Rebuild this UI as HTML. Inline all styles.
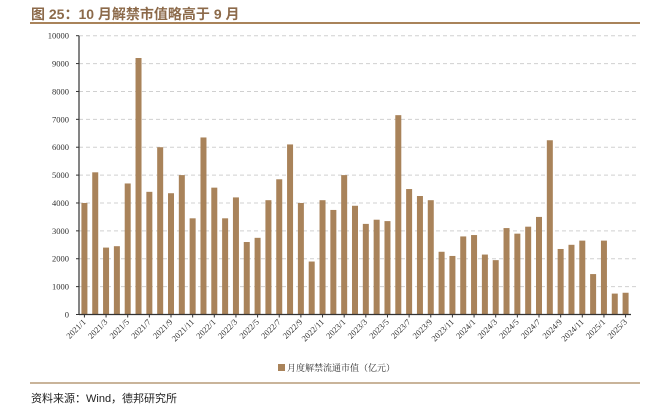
<!DOCTYPE html>
<html><head><meta charset="utf-8">
<style>
body{margin:0;background:#fff;width:649px;height:415px;overflow:hidden;font-family:"Liberation Sans","Noto Sans CJK SC",sans-serif;}
svg text{font-family:"Liberation Serif","Noto Serif CJK SC",serif;}
</style></head>
<body>
<svg width="649" height="415">
<text x="31" y="19" font-size="14" font-weight="bold" fill="#8c6a4a" style="font-family:'Liberation Sans','Noto Sans CJK SC',sans-serif">图 25：10 月解禁市值略高于 9 月</text>
<rect x="30" y="22" width="610" height="2" fill="#a9835a"/>
<g id="grid"></g>
<g id="bars"></g>
<g id="axes"></g>
<rect x="278" y="364" width="7" height="7" fill="#a9835a"/>
<text x="287" y="371" font-size="9" fill="#333">月度解禁流通市值（亿元）</text>
<rect x="30" y="382" width="610" height="2" fill="#c9b49a"/>
<text x="31" y="402" font-size="11" fill="#222" style="font-family:'Liberation Sans','Noto Sans CJK SC',sans-serif">资料来源：Wind，德邦研究所</text>
</svg>
<script>
const categories=[];
for(let y=2021;y<=2025;y++)for(let m=1;m<=12;m++){if(y===2025&&m>3)break;categories.push(y+'/'+m);}
const values=[4000,5100,2400,2450,4700,9200,4400,6000,4350,5000,3450,6350,4550,3450,4200,2600,2750,4100,4850,6100,4000,1900,4100,3750,5000,3900,3250,3400,3350,7150,4500,4250,4100,2250,2100,2800,2850,2150,1950,3100,2900,3150,3500,6250,2350,2500,2650,1450,2650,750,780];
const yTicks=[0,1000,2000,3000,4000,5000,6000,7000,8000,9000,10000];
const NS='http://www.w3.org/2000/svg';
const x0=79,x1=631,yb=314.5,yt=35.7,yMax=10000;
const step=(x1-x0)/categories.length;
const xc=i=>x0+step*(i+0.5);
const yv=v=>yb-(yb-yt)*v/yMax;
function mk(t,a,p){const e=document.createElementNS(NS,t);for(const k in a)e.setAttribute(k,a[k]);p.appendChild(e);return e;}
const grid=document.getElementById('grid'),bars=document.getElementById('bars'),axes=document.getElementById('axes');
yTicks.forEach(t=>{
  if(t>0){const l=mk('line',{x1:x0,x2:636,y1:yv(t),y2:yv(t),stroke:'#d0d0d0','stroke-dasharray':'4,3'},grid);
  
  }
  const tk=mk('line',{x1:x0-3,x2:x0,y1:yv(t),y2:yv(t),stroke:'#333'},axes);
  
  
  const tx=mk('text',{x:x0-10,y:yv(t)+3,'font-size':8.5,'text-anchor':'end',fill:'#333'},axes);
  tx.textContent=t;
  
  
});
values.forEach((v,i)=>{
  const r=mk('rect',{x:xc(i)-3,y:yv(v),width:6,height:yb-yv(v),fill:'#a9835a'},bars);
  
  
});
const ya=mk('line',{x1:x0,x2:x0,y1:yt,y2:yb,stroke:'#333','stroke-width':1.2},axes);


const xa=mk('line',{x1:x0,x2:x1,y1:yb,y2:yb,stroke:'#333','stroke-width':1.2},axes);


categories.forEach((c,i)=>{
  if(i%2)return;
  const x=xc(i);
  const tk=mk('line',{x1:x,x2:x,y1:yb,y2:yb+3,stroke:'#333'},axes);
  
  
  const tx=mk('text',{x:x+2,y:yb+8,'font-size':8.5,'text-anchor':'end',fill:'#333',transform:`rotate(-45 ${x+2} ${yb+8})`},axes);
  tx.textContent=c;
  
  
});
</script>
</body></html>
